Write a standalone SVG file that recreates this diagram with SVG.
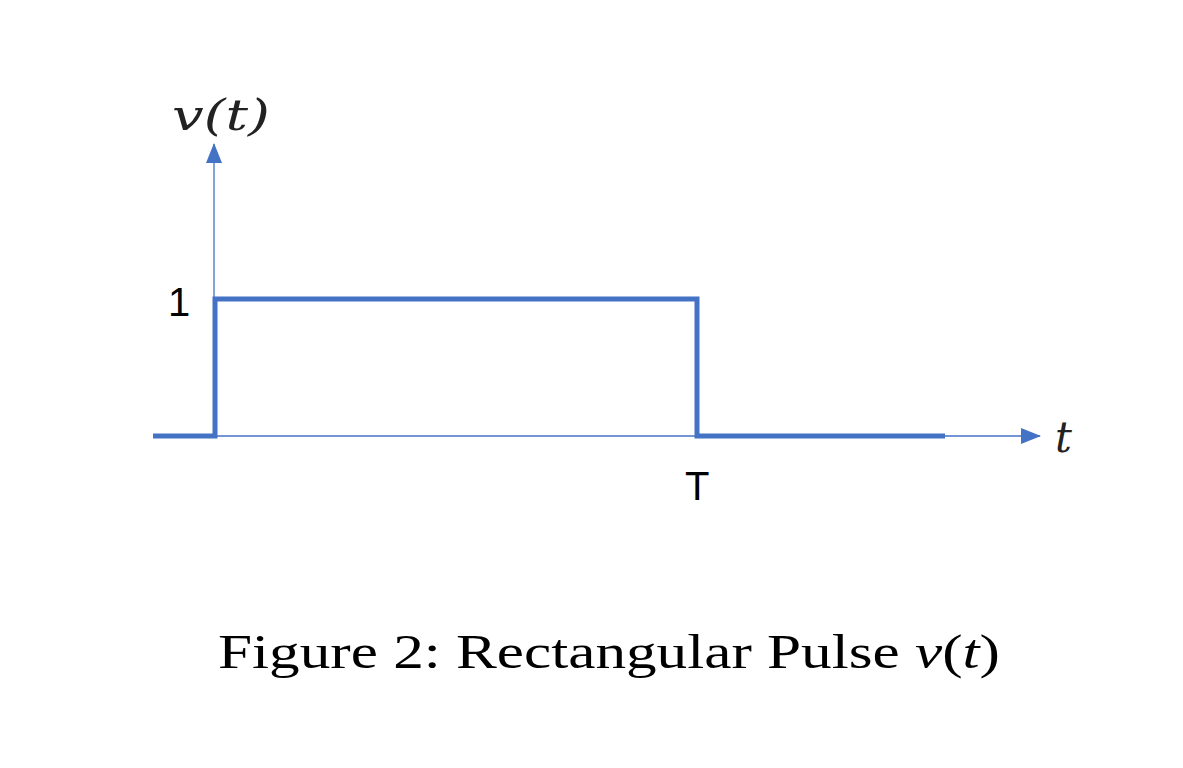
<svg xmlns="http://www.w3.org/2000/svg" width="1183" height="768" viewBox="0 0 1183 768">
<style>
.ax{stroke:#4472C4;stroke-width:1.3;fill:none}
.sig{stroke:#4472C4;stroke-width:5;fill:none}
.lbl{font-family:"Liberation Sans",sans-serif;font-size:40px;fill:#000}
.mi{font-family:"DejaVu Serif","Liberation Serif",serif;font-style:italic;font-size:42px;fill:#222}
.cap{font-family:"Liberation Serif",serif;font-size:48px;fill:#000}
</style>
<defs><marker id="ah2" markerWidth="20" markerHeight="16" refX="19" refY="8" orient="auto" markerUnits="userSpaceOnUse"><path d="M0,0 L20,8 L0,16 z" fill="#4472C4"/></marker></defs>
<g id="connectors">
<line class="ax" x1="214" y1="436" x2="214" y2="144" marker-end="url(#ah2)"/>
<line class="ax" x1="155" y1="436" x2="1040" y2="436" marker-end="url(#ah2)"/>
<polyline class="sig" points="153,436 215,436 215,299 697,299 697,436 945,436"/>
</g>
<g id="labels">
<text class="mi" x="172" y="130" textLength="98" lengthAdjust="spacingAndGlyphs">v(t)</text>
<text class="mi" x="1055" y="452">t</text>
<text class="lbl" x="168" y="316">1</text>
<text class="lbl" x="685" y="500">T</text>
<text class="cap" x="218" y="668" textLength="782" lengthAdjust="spacingAndGlyphs">Figure 2: Rectangular Pulse <tspan font-style="italic">v</tspan>(<tspan font-style="italic">t</tspan>)</text>
</g>
</svg>
